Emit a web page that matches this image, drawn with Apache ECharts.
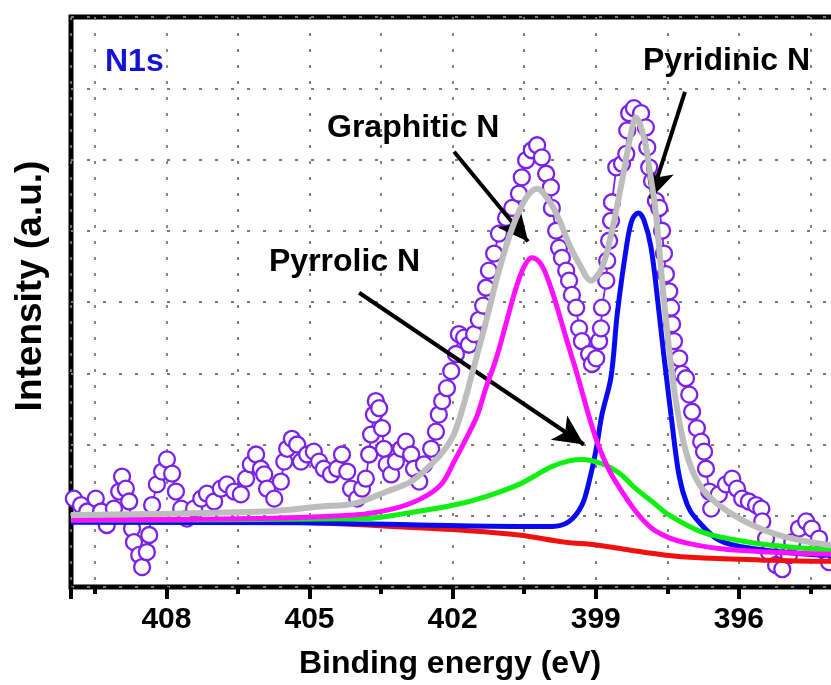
<!DOCTYPE html>
<html><head><meta charset="utf-8">
<script src="https://cdn.jsdelivr.net/npm/echarts@6/dist/echarts.min.js"></script>
<style>html,body{margin:0;padding:0;background:#fff}#c{width:831px;height:685px}</style>
</head><body><div id="c"></div>
<script>
// Binding energy (eV) and intensity (a.u.)
const obsX=[409.94,409.79,409.66,409.48,409.37,409.25,409.10,408.99,408.93,408.85,408.78,408.72,408.68,408.57,408.51,408.41,408.36,408.30,408.20,408.09,407.99,407.88,407.80,407.69,407.57,407.42,407.27,407.15,407.00,406.86,406.73,406.58,406.44,406.33,406.23,406.12,406.02,405.95,405.89,405.74,405.60,405.53,405.47,405.37,405.26,405.18,405.05,404.91,404.80,404.70,404.55,404.42,404.32,404.21,404.13,404.00,403.90,403.82,403.75,403.71,403.65,403.61,403.54,403.48,403.44,403.38,403.29,403.19,403.08,402.98,402.87,402.81,402.70,402.60,402.45,402.35,402.29,402.22,402.12,402.03,401.93,401.87,401.76,401.66,401.55,401.45,401.36,401.30,401.24,401.13,401.03,400.88,400.75,400.61,400.55,400.46,400.34,400.23,400.13,400.04,399.94,399.92,399.83,399.77,399.71,399.62,399.56,399.50,399.41,399.35,399.29,399.14,399.08,398.99,398.93,398.89,398.87,398.78,398.76,398.72,398.68,398.66,398.57,398.45,398.36,398.34,398.30,398.20,398.05,397.95,397.92,397.88,397.82,397.74,397.67,397.61,397.57,397.53,397.46,397.42,397.40,397.36,397.25,397.19,397.11,397.04,396.98,396.88,396.79,396.73,396.69,396.62,396.58,396.42,396.27,396.14,396.04,395.93,395.79,395.64,395.53,395.51,395.43,395.37,395.22,395.09,394.95,394.88,394.74,394.59,394.47,394.32,394.17,394.11,393.95];
const obsY=[1.24,1.15,1.06,1.24,1.06,0.87,1.10,1.34,1.55,1.38,1.20,0.82,0.63,0.45,0.28,0.49,0.73,1.15,1.44,1.62,1.79,1.59,1.34,1.10,0.96,1.10,1.24,1.31,1.20,1.38,1.44,1.34,1.30,1.52,1.72,1.86,1.66,1.58,1.38,1.24,1.48,1.76,1.94,2.08,2.00,1.76,1.86,1.90,1.76,1.66,1.58,1.66,1.86,1.62,1.38,1.24,1.38,1.52,1.86,2.14,2.42,2.61,2.51,2.23,1.94,1.72,1.58,1.76,1.94,2.04,1.86,1.66,1.48,1.72,1.94,2.18,2.42,2.61,2.79,3.03,3.27,3.55,3.50,3.40,3.55,3.75,3.95,4.20,4.44,4.68,4.96,5.18,5.32,5.52,5.75,5.99,6.13,6.20,6.03,5.80,5.61,5.32,5.00,4.76,4.62,4.44,4.30,4.10,3.92,3.63,3.45,3.27,3.13,3.21,3.45,3.63,3.92,4.30,4.58,4.86,5.14,5.40,5.89,5.94,6.08,6.41,6.65,6.72,6.65,6.45,6.17,5.89,5.70,5.42,5.32,5.00,4.68,4.39,4.15,3.92,3.69,3.45,3.21,2.99,2.93,2.70,2.46,2.23,2.04,1.90,1.66,1.34,1.10,1.30,1.44,1.52,1.38,1.24,1.20,1.15,1.10,0.92,0.68,0.49,0.31,0.25,0.45,0.63,0.82,0.92,0.82,0.68,0.49,0.35,0.45];

const graphiticX=[410.00,406.16,404.07,403.23,402.66,402.24,401.97,401.72,401.49,401.30,401.09,400.88,400.67,400.50,400.34,400.17,400.02,399.83,399.62,399.41,399.25,399.10,398.93,398.72,398.51,398.16,397.82,397.46,397.11,396.42,395.37,394.11,393.50];
const graphiticY=[0.94,0.96,1.01,1.10,1.24,1.44,1.76,2.08,2.40,2.80,3.20,3.70,4.20,4.50,4.62,4.55,4.35,3.97,3.49,3.03,2.65,2.30,1.96,1.64,1.40,1.06,0.82,0.69,0.62,0.54,0.49,0.46,0.45];

const pyridinicX=[410.00,405.22,402.70,400.61,399.92,399.56,399.29,399.14,398.99,398.87,398.68,398.55,398.36,398.24,398.11,397.99,397.84,397.67,397.59,397.51,397.42,397.25,397.08,396.90,396.42,395.72,394.32,393.50];
const pyridinicY=[0.91,0.90,0.87,0.85,0.85,0.92,1.15,1.48,1.94,2.42,2.95,3.83,4.76,5.15,5.25,5.15,4.76,3.83,3.35,2.90,2.40,1.55,1.15,0.96,0.66,0.54,0.45,0.44];

const pyrrolicX=[410.00,403.86,403.02,401.97,401.30,400.61,399.92,399.56,399.29,398.87,398.51,398.16,397.82,397.46,396.77,396.06,395.37,394.11,393.50];
const pyrrolicY=[0.94,0.96,1.03,1.15,1.27,1.44,1.69,1.77,1.79,1.73,1.60,1.38,1.20,1.01,0.77,0.66,0.59,0.52,0.51];

const backgroundX=[410.00,405.22,402.70,401.87,400.61,399.66,398.99,398.30,397.57,396.83,395.58,394.11,393.50];
const backgroundY=[0.93,0.91,0.83,0.80,0.73,0.63,0.59,0.52,0.45,0.41,0.38,0.36,0.36];

const envelopeX=[410.00,405.95,404.76,404.07,403.38,402.87,402.45,402.18,401.97,401.76,401.59,401.30,401.03,400.75,400.46,400.23,399.98,399.77,399.56,399.35,399.10,398.87,398.66,398.45,398.26,398.16,397.99,397.88,397.74,397.61,397.46,397.32,397.11,396.83,396.42,395.72,395.01,394.11,393.50];
const envelopeY=[1.01,1.06,1.13,1.17,1.34,1.48,1.72,1.92,2.15,2.58,3.00,3.73,4.44,5.04,5.46,5.59,5.42,5.16,4.81,4.54,4.30,4.48,5.00,5.70,6.37,6.59,6.31,5.89,5.24,4.30,3.33,2.61,1.90,1.44,1.15,0.87,0.70,0.59,0.57];

// annotation arrows: [fromX, fromY, toX, toY] in data units
const graphiticArrow=[401.97,6.11,400.42,4.85];
const pyridinicArrow=[397.13,6.95,397.85,5.45];
const pyrrolicArrow=[403.96,4.13,399.25,2.00];

const xTickLabels=[396,399,402,405,408];

const zip=(xs,ys)=>xs.map((x,i)=>[x,ys[i]]);
const FONT="'Liberation Sans', Arial, sans-serif";
const grid={left:71,top:17,width:811,height:570,outerBoundsMode:'none',containLabel:false};
const dotted={type:[3,13],color:'#7a7a7a',width:1.8};

const chart=echarts.init(document.getElementById('c'));
const fit=(name,xs,ys,color,w,z)=>({name,type:'line',data:zip(xs,ys),showSymbol:false,smooth:0.35,
  lineStyle:{color,width:w},itemStyle:{color},z,animation:false,silent:true});
const arrow=a=>[{coord:[a[0],a[1]]},{coord:[a[2],a[3]]}];

chart.setOption({
  animation:false,
  backgroundColor:'#fff',
  grid:[Object.assign({show:true,borderColor:'#000',borderWidth:5,backgroundColor:'transparent'},grid),
        Object.assign({show:false},grid)],
  xAxis:[
    {gridIndex:0,type:'value',inverse:true,min:393,max:410,interval:3,
     axisLine:{show:false},
     axisTick:{show:true,length:12,lineStyle:{color:'#000',width:4}},
     axisLabel:{fontFamily:FONT,fontWeight:'bold',fontSize:30,color:'#000',margin:18,
       formatter:v=>xTickLabels.indexOf(Math.round(v*100)/100)>=0?String(v):''},
     splitLine:{show:false}},
    {gridIndex:1,type:'value',inverse:true,min:393,max:410,interval:1.5,
     axisLine:{show:false},
     axisTick:{show:true,length:7,lineStyle:{color:'#000',width:4}},
     axisLabel:{show:false},
     splitLine:{show:true,lineStyle:dotted}}
  ],
  yAxis:[
    {gridIndex:0,type:'value',min:0,max:8,interval:1,axisLine:{show:false},axisTick:{show:false},
     axisLabel:{show:false},splitLine:{show:true,lineStyle:dotted}},
    {gridIndex:1,type:'value',min:0,max:8,interval:1,show:false}
  ],
  series:[
    {name:'Experimental',type:'line',data:zip(obsX,obsY),smooth:false,symbol:'circle',symbolSize:16,showAllSymbol:true,
     lineStyle:{color:'#7b22e6',width:1.8},itemStyle:{color:'#fff',borderColor:'#7b22e6',borderWidth:2.3},z:2,silent:true},
    fit('Background',backgroundX,backgroundY,'#f01010',5,3),
    fit('Pyridinic N',pyridinicX,pyridinicY,'#0a0af0',5,4),
    fit('Pyrrolic N',pyrrolicX,pyrrolicY,'#10f010',5,5),
    fit('Graphitic N',graphiticX,graphiticY,'#ff10ff',5,6),
    Object.assign(fit('Envelope',envelopeX,envelopeY,'#bdbdbd',6,7),{
      markLine:{silent:true,animation:false,symbol:['none','arrow'],symbolSize:[22,30],
        label:{show:false},lineStyle:{color:'#000',width:4,type:'solid'},
        emphasis:{disabled:true},
        data:[arrow(graphiticArrow),arrow(pyridinicArrow),arrow(pyrrolicArrow)]}})
  ],
  graphic:[
    {type:'text',left:105,top:46,z:100,style:{text:'N1s',fill:'#1414d2',font:"bold 32px "+FONT}},
    {type:'text',left:327,top:112,z:100,style:{text:'Graphitic N',fill:'#000',font:"bold 32px "+FONT}},
    {type:'text',left:269,top:246,z:100,style:{text:'Pyrrolic N',fill:'#000',font:"bold 32px "+FONT}},
    {type:'text',left:643,top:45,z:100,style:{text:'Pyridinic N',fill:'#000',font:"bold 32px "+FONT}},
    {type:'text',x:450,y:664,z:100,style:{text:'Binding energy (eV)',fill:'#000',font:"bold 32px "+FONT,align:'center',verticalAlign:'middle'}},
    {type:'text',x:31,y:286,rotation:Math.PI/2,z:100,style:{text:'Intensity (a.u.)',fill:'#000',font:"bold 37px "+FONT,align:'center',verticalAlign:'middle'}}
  ]
});
</script></body></html>
